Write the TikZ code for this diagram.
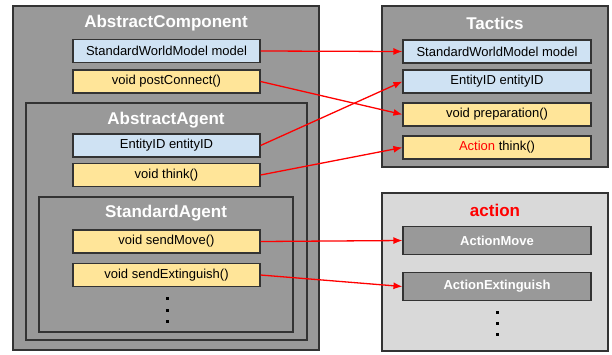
\documentclass[tikz,border=0pt]{standalone}
\usepackage{fontspec}
\setmainfont{Liberation Sans}
\usetikzlibrary{arrows.meta}

\definecolor{boxgray}{HTML}{999999}
\definecolor{palegray}{HTML}{D9D9D9}
\definecolor{fieldblue}{HTML}{CFE2F3}
\definecolor{methodyellow}{HTML}{FFE599}
\definecolor{edgegray}{HTML}{333333}

\begin{document}
\begin{tikzpicture}[
    x=1pt, y=-1pt,
    every node/.style={font=\fontsize{13}{15}\selectfont, inner sep=0pt},
    pkgbox/.style={rectangle, draw=edgegray, line width=1.4pt, fill=boxgray},
    member/.style={rectangle, draw=edgegray, line width=1.1pt, minimum width=187pt, minimum height=23pt, align=center},
    fieldbox/.style={member, fill=fieldblue},
    methodbox/.style={member, fill=methodyellow},
    actbox/.style={member, fill=boxgray, text=white, font=\fontsize{13}{15}\selectfont\bfseries, minimum height=28pt},
    pkgtitle/.style={font=\fontsize{17}{20}\selectfont\bfseries, text=white},
    link/.style={-{Latex[length=9pt,width=7pt]}, red, line width=1.3pt}
]
\useasboundingbox (0,0) rectangle (612,354);

% ════════════════════════════════════════
% LEFT: ABSTRACTCOMPONENT > ABSTRACTAGENT > STANDARDAGENT
% ════════════════════════════════════════
\node[pkgbox, minimum width=306pt, minimum height=344pt] (comp) at (166, 178) {};
\node[pkgtitle] (comptitle) at (166, 23) {AbstractComponent};
\node[fieldbox]  (c1) at (166.5, 51) {StandardWorldModel model};
\node[methodbox] (c2) at (166.5, 81.5) {void postConnect()};

\node[pkgbox, minimum width=281pt, minimum height=237pt] (agent) at (166.5, 221.5) {};
\node[pkgtitle] (agenttitle) at (166, 120) {AbstractAgent};
\node[fieldbox]  (g1) at (166.5, 145.5) {EntityID entityID};
\node[methodbox] (g2) at (166.5, 175) {void think()};

\node[pkgbox, minimum width=254pt, minimum height=135pt] (std) at (166, 264.5) {};
\node[pkgtitle] (stdtitle) at (166, 213) {StandardAgent};
\node[methodbox] (s1) at (166.5, 241.5) {void sendMove()};
\node[methodbox] (s2) at (166.5, 275) {void sendExtinguish()};
\foreach \y in {297, 309, 320}
    \fill (166, \y) rectangle +(2.6, 2.6);

% ════════════════════════════════════════
% TOP-RIGHT: TACTICS
% ════════════════════════════════════════
\node[pkgbox, minimum width=226pt, minimum height=161pt] (tac) at (495, 86.5) {};
\node[pkgtitle] (tactitle) at (495, 23) {Tactics};
\node[fieldbox, minimum width=188pt]  (t1) at (497, 51.5) {StandardWorldModel model};
\node[fieldbox, minimum width=188pt]  (t2) at (497, 81.5) {EntityID entityID};
\node[methodbox, minimum width=188pt] (t3) at (497, 114.5) {void preparation()};
\node[methodbox, minimum width=188pt] (t4) at (497, 147.5) {\textcolor{red}{Action} think()};

% ════════════════════════════════════════
% BOTTOM-RIGHT: ACTION
% ════════════════════════════════════════
\node[pkgbox, fill=palegray, minimum width=226pt, minimum height=158pt] (act) at (495, 272) {};
\node[pkgtitle, text=red] (acttitle) at (495, 210) {action};
\node[actbox, minimum width=188pt] (a1) at (497, 240.5) {ActionMove};
\node[actbox, minimum width=188pt] (a2) at (497, 286.5) {ActionExtinguish};
\foreach \y in {311, 322, 333}
    \fill (496, \y) rectangle +(2.6, 2.6);

% ── references ──
\draw[link] (c1.east) -- (t1.west);
\draw[link] (c2.east) -- (t3.west);
\draw[link] (g1.east) -- (t2.west);
\draw[link] (g2.east) -- (t4.west);
\draw[link] (s1.east) -- (a1.west);
\draw[link] (s2.east) -- (a2.west);

\end{tikzpicture}
\end{document}
